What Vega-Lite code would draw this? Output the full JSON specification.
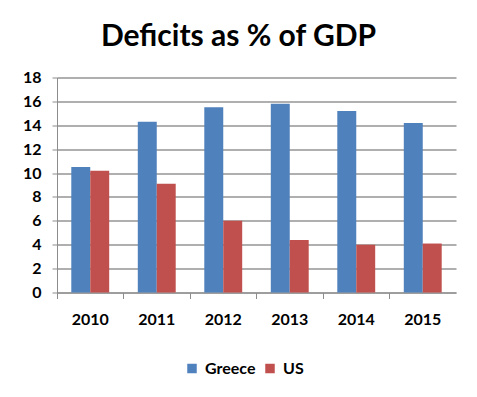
{
  "$schema": "https://vega.github.io/schema/vega-lite/v6.json",
  "width": 399,
  "height": 215,
  "autosize": "none",
  "padding": {"left": 57, "top": 77.5, "right": 21, "bottom": 104.5},
  "background": "white",
  "title": {"text": "Deficits as % of GDP", "font": "Lato", "fontSize": 30, "fontWeight": "bold", "color": "black", "anchor": "middle", "dx": -18, "offset": 18},
  "data": {"values": [
    {"year": "2010", "country": "Greece", "value": 10.5},
    {"year": "2010", "country": "US", "value": 10.2},
    {"year": "2011", "country": "Greece", "value": 14.3},
    {"year": "2011", "country": "US", "value": 9.1},
    {"year": "2012", "country": "Greece", "value": 15.5},
    {"year": "2012", "country": "US", "value": 6.0},
    {"year": "2013", "country": "Greece", "value": 15.8},
    {"year": "2013", "country": "US", "value": 4.4},
    {"year": "2014", "country": "Greece", "value": 15.2},
    {"year": "2014", "country": "US", "value": 4.0},
    {"year": "2015", "country": "Greece", "value": 14.2},
    {"year": "2015", "country": "US", "value": 4.1}
  ]},
  "mark": {"type": "bar"},
  "encoding": {
    "x": {
      "field": "year", "type": "nominal",
      "scale": {"paddingInner": 0.43, "paddingOuter": 0.215},
      "axis": {"title": null, "bandPosition": -0.375, "labelAngle": 0, "labelFont": "Lato", "labelFontSize": 16, "labelFontWeight": "bold", "labelColor": "black", "labelPadding": 13, "domainColor": "#8c8c8c", "tickColor": "#8c8c8c", "tickSize": 6, "grid": false}
    },
    "xOffset": {"field": "country", "sort": ["Greece", "US"]},
    "y": {
      "field": "value", "type": "quantitative",
      "scale": {"domain": [0, 18], "nice": false},
      "axis": {"title": null, "values": [0, 2, 4, 6, 8, 10, 12, 14, 16, 18], "labelFont": "Lato", "labelFontSize": 16, "labelFontWeight": "bold", "labelColor": "black", "labelPadding": 11, "domainColor": "#8c8c8c", "tickColor": "#8c8c8c", "tickSize": 5, "gridColor": "#949494", "gridWidth": 1.5}
    },
    "color": {
      "field": "country", "type": "nominal",
      "scale": {"domain": ["Greece", "US"], "range": ["#4F81BD", "#C0504D"]},
      "legend": {"title": null, "orient": "none", "legendX": 127, "legendY": 283, "direction": "horizontal", "symbolType": "square", "symbolSize": 90, "symbolStrokeWidth": 0, "labelFont": "Lato", "labelFontSize": 16, "labelFontWeight": "bold", "labelColor": "black", "columnPadding": 6, "labelOffset": 5}
    }
  },
  "config": {"view": {"stroke": null}}
}
